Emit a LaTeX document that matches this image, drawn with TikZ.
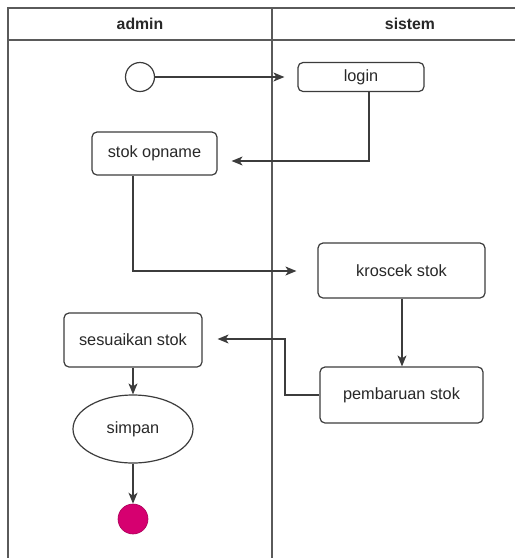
\documentclass[tikz,border=0pt]{standalone}
\usepackage{fontspec}
\setmainfont{Liberation Sans}
\usetikzlibrary{arrows.meta,shapes.geometric}
\definecolor{ln}{RGB}{60,60,60}
\definecolor{frame}{RGB}{90,90,90}
\definecolor{txt}{RGB}{40,40,40}
\definecolor{endc}{RGB}{214,0,112}
\begin{document}
\begin{tikzpicture}[x=1pt,y=-1pt,
  act/.style={draw=ln,line width=1.2pt,rounded corners=5pt,font=\fontsize{16.3}{19}\selectfont,text=txt,inner sep=0pt},
  conn/.style={draw=ln,line width=1.2pt,-{Stealth[length=11pt,width=9pt,inset=3pt]}},
  lane/.style={draw=frame,line width=1.8pt}]
\useasboundingbox (0,0) rectangle (515,558);
\fill[white] (0,0) rectangle (515,558);
% swimlanes
\draw[lane] (8,562) -- (8,8) -- (520,8);
\draw[lane] (8,40) -- (520,40);
\draw[lane] (272,8) -- (272,562);
\node[font=\bfseries\fontsize{15.8}{18}\selectfont,text=txt] (hadmin) at (140,24) {admin};
\node[font=\bfseries\fontsize{15.8}{18}\selectfont,text=txt] (hsistem) at (410,24) {sistem};
% nodes
\node[draw=ln,line width=1.2pt,circle,minimum size=29pt,inner sep=0pt] (start) at (140,77) {};
\node[act,minimum width=126pt,minimum height=29pt] (login) at (361,77) {login};
\node[act,minimum width=125pt,minimum height=43pt] (opname) at (154.5,153.5) {stok opname};
\node[act,minimum width=167pt,minimum height=55pt] (kroscek) at (401.5,270.5) {kroscek stok};
\node[act,minimum width=163pt,minimum height=56pt] (pembaruan) at (401.5,395) {pembaruan stok};
\node[act,minimum width=138pt,minimum height=54pt] (sesuai) at (133,340) {sesuaikan stok};
\node[draw=ln,line width=1.2pt,ellipse,minimum width=120pt,minimum height=68pt,inner sep=0pt,font=\fontsize{16.3}{19}\selectfont,text=txt] (simpan) at (133,429) {simpan};
\node[circle,fill=endc,draw=endc!80!black,line width=0.6pt,minimum size=30pt,inner sep=0pt] (end) at (133,519) {};
% connectors
\draw[conn,shorten >=13pt] (start.east) -- (start.east -| login.west);
\draw[conn,shorten >=14pt] (login.south -| 369,0) |- (opname.east |- 0,161);
\draw[conn,shorten >=21pt] (opname.south -| 133,0) |- (kroscek.west |- 0,271);
\draw[conn] (kroscek.south -| 402,0) -- (pembaruan.north -| 402,0);
\draw[conn,shorten >=15pt] (pembaruan.west) -- (285,395) |- (sesuai.east |- 0,339);
\draw[conn] (sesuai.south) -- (simpan.north);
\draw[conn] (simpan.south) -- (end.north);
\end{tikzpicture}
\end{document}
